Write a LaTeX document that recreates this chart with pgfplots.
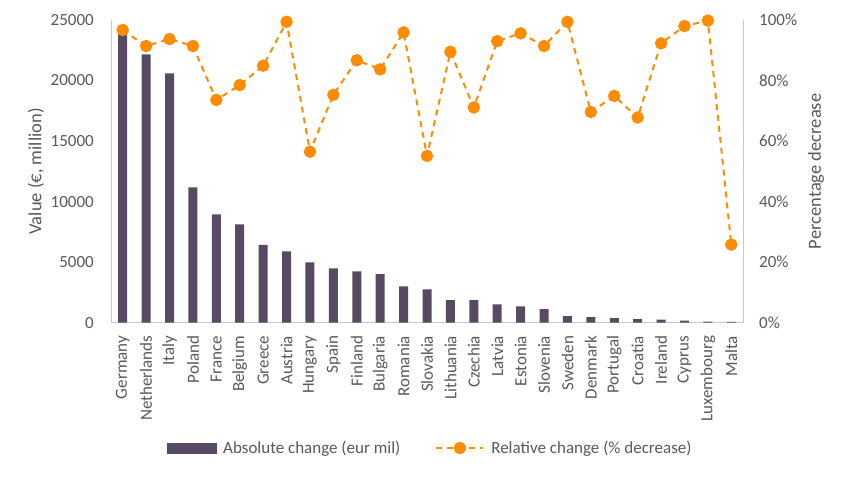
\documentclass[border=0pt]{standalone}
\usepackage{pgfplots}
\pgfplotsset{compat=1.18}
\usepackage{fontspec}
\setmainfont{Carlito}
\definecolor{barc}{RGB}{88,74,99}
\definecolor{orgc}{RGB}{255,140,0}
\definecolor{txtc}{RGB}{89,89,89}
\definecolor{axc}{RGB}{200,200,200}
\pgfplotsset{
  barlegend/.style={legend image code/.code={\fill[barc] (0pt,-5pt) rectangle (49pt,5pt);}},
  linelegend/.style={legend image code/.code={\draw[##1, mark repeat=2, mark phase=2] plot coordinates {(0pt,0pt) (23.5pt,0pt) (47pt,0pt)};}},
}
\begin{document}
\begin{tikzpicture}
\useasboundingbox (0,0) rectangle (850pt,476pt);
\pgfplotsset{
  common/.style={
    at={(111pt,153.3pt)}, anchor=south west,
    scale only axis, width=632pt, height=302.7pt,
    xmin=-0.5, xmax=26.5, clip=false,
    major tick length=0pt,
    scaled y ticks=false,
    tick label style={font=\fontsize{17}{20}\selectfont, text=txtc, inner sep=0pt},
    /pgf/number format/assume math mode=true,
  }
}
\begin{axis}[common,
  axis x line*=bottom, axis y line*=left,
  axis line style={axc, line width=1pt},
  ymin=0, ymax=25000,
  ytick={0,5000,10000,15000,20000,25000},
  yticklabels={0,5000,10000,15000,20000,25000},
  yticklabel shift=17pt,
  xtick={0,...,26},
  xticklabels={Germany,Netherlands,Italy,Poland,France,Belgium,Greece,Austria,Hungary,Spain,Finland,Bulgaria,Romania,Slovakia,Lithuania,Czechia,Latvia,Estonia,Slovenia,Sweden,Denmark,Portugal,Croatia,Ireland,Cyprus,Luxembourg,Malta},
  x tick label style={rotate=90, anchor=east},
  xticklabel shift=13pt,
  ylabel={Value (€, million)},
  every axis y label/.style={at={(axis description cs:-0.1187,0.5)}, rotate=90, anchor=center,
    font=\fontsize{18.5}{21}\selectfont, text=txtc},
]
\addplot[ybar, bar width=9pt, fill=barc, draw=none] coordinates {
(0,24030) (1,22160) (2,20590) (3,11180) (4,8950) (5,8120) (6,6420) (7,5890) (8,4980) (9,4490) (10,4240) (11,4020) (12,3000) (13,2750) (14,1870) (15,1870) (16,1510) (17,1350) (18,1130) (19,550) (20,470) (21,385) (22,300) (23,250) (24,165) (25,80) (26,60)
};
\end{axis}
\begin{axis}[common,
  axis x line=none, axis y line*=right,
  axis line style={axc, line width=1pt},
  ymin=0, ymax=100,
  ytick={0,20,40,60,80,100},
  yticklabels={0\%,20\%,40\%,60\%,80\%,100\%},
  yticklabel shift=16pt,
  y tick label style={anchor=west},
  ylabel={Percentage decrease},
  every axis y label/.style={at={(axis description cs:1.1155,0.5)}, rotate=90, anchor=center,
    font=\fontsize{18.5}{21}\selectfont, text=txtc},
  legend style={at={(axis description cs:0.505,-0.414)}, anchor=center, draw=none, fill=none,
    font=\fontsize{17}{20}\selectfont, text=txtc, legend columns=2,
    /tikz/every even column/.append style={column sep=33pt}},
]
\addlegendimage{barlegend}
\addlegendentry{\hspace*{5pt}Absolute change (eur mil)}
\addplot[orgc, line width=2pt, dash pattern=on 6pt off 5pt, mark=*, mark size=5.2pt,
  mark options={solid, fill=orgc, draw=orgc}, linelegend]
coordinates {
(0,96.7) (1,91.4) (2,93.7) (3,91.4) (4,73.6) (5,78.5) (6,84.9) (7,99.4) (8,56.5) (9,75.3) (10,86.7) (11,83.7) (12,95.9) (13,55.1) (14,89.5) (15,71.1) (16,93.0) (17,95.6) (18,91.4) (19,99.4) (20,69.6) (21,74.9) (22,67.8) (23,92.3) (24,98.0) (25,99.8) (26,25.8)
};
\addlegendentry{\hspace*{5pt}Relative change (\% decrease)}
\end{axis}
\end{tikzpicture}
\end{document}
